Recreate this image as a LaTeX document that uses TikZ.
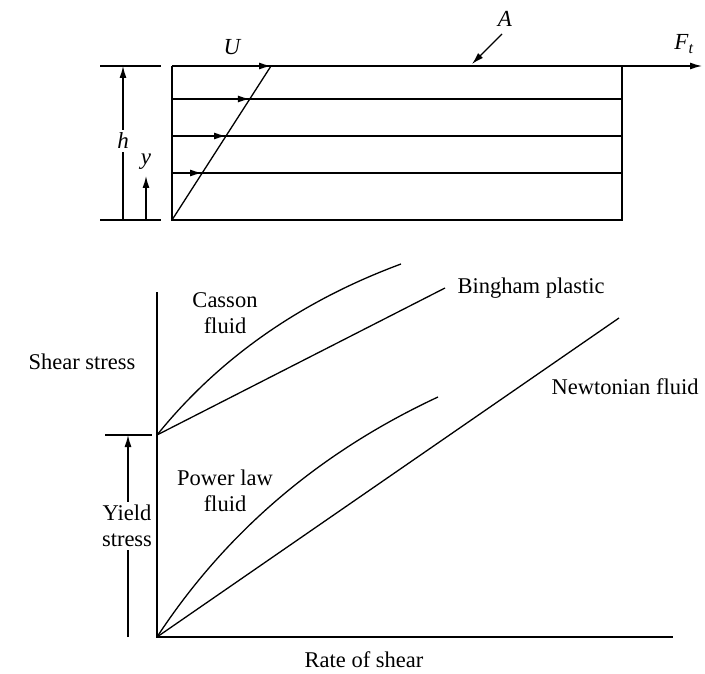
\documentclass[tikz,border=0pt]{standalone}
\usepackage{fontspec}
\setmainfont{Liberation Serif}
\usetikzlibrary{arrows.meta}
\begin{document}
\begin{tikzpicture}[x=1pt,y=-1pt, line width=1.3pt,
  tip/.style={-{Latex[length=12pt,width=7pt]}},
  lbl/.style={font=\fontsize{22.5}{26}\selectfont, inner sep=1pt},
  ilbl/.style={font=\fontsize{23}{27}\selectfont\itshape, inner sep=1pt}]
\useasboundingbox (0,0) rectangle (705,674);
% ---------- top: shear between plates ----------
\coordinate (t0) at (172,66);
\coordinate (t1) at (622,66);
\coordinate (b0) at (172,220);
\coordinate (b1) at (622,220);
\coordinate (ft) at (702,66);
\coordinate (p4) at (271,66);
\coordinate (l1a) at (172,99);  \coordinate (l1b) at (622,99);  \coordinate (p1) at (249.8,99);
\coordinate (l2a) at (172,136); \coordinate (l2b) at (622,136); \coordinate (p2) at (226,136);
\coordinate (l3a) at (172,173); \coordinate (l3b) at (622,173); \coordinate (p3) at (202,173);
\draw (t1) -- (b1) -- (b0) -- (t0);
\draw[tip] (t0) -- (ft);
\draw[tip] (t0) -- (p4);
\draw (l1a) -- (l1b);
\draw (l2a) -- (l2b);
\draw (l3a) -- (l3b);
\draw[tip] (l1a) -- (p1);
\draw[tip] (l2a) -- (p2);
\draw[tip] (l3a) -- (p3);
\draw (b0) -- (p4);
% left ticks and dimension arrows
\coordinate (tk1a) at (100,66);  \coordinate (tk1b) at (161,66);
\coordinate (tk2a) at (100,220); \coordinate (tk2b) at (161,220);
\draw (tk1a) -- (tk1b);
\draw (tk2a) -- (tk2b);
\coordinate (h0) at (123,220); \coordinate (h1) at (123,66);
\draw[tip] (h0) -- (h1);
\node[ilbl, fill=white, inner sep=3pt] (hl) at (123,141) {h};
\coordinate (y0) at (146,220); \coordinate (y1) at (146,176);
\draw[tip] (y0) -- (y1);
\node[ilbl] (yl) at (146,162) {y};
\node[ilbl] (ul) at (232,47) {U};
\node[ilbl] (al) at (505,19) {A};
\coordinate (a0) at (502,34); \coordinate (a1) at (472,64);
\draw[tip] (a0) -- (a1);
\node[ilbl] (fl) at (684,44) {F\textsubscript{t}};
% ---------- bottom: rheogram ----------
\coordinate (o) at (157,637);
\coordinate (ytop) at (157,292);
\coordinate (xend) at (673,637);
\coordinate (ys) at (157,435);
\draw (ytop) -- (o) -- (xend);
\coordinate (yt0) at (105,435); \coordinate (yt1) at (152,435);
\draw (yt0) -- (yt1);
\coordinate (ya0) at (128,637); \coordinate (ya1) at (128,435);
\draw[tip] (ya0) -- (ya1);
\node[lbl, fill=white, align=center, inner sep=3pt] (yl2) at (127,526) {Yield\\stress};
\node[lbl] (ss) at (82,362) {Shear stress};
% curves
\coordinate (ce) at (401,264);
\coordinate (cc1) at (219,358.3);
\coordinate (cc2) at (300.3,301.3);
\draw (ys) .. controls (cc1) and (cc2) .. (ce);
\coordinate (be) at (445,288);
\draw (ys) -- (be);
\coordinate (pe) at (438,397);
\coordinate (pc1) at (225.7,532.3);
\coordinate (pc2) at (319.3,452.3);
\draw (o) .. controls (pc1) and (pc2) .. (pe);
\coordinate (ne) at (619,318);
\draw (o) -- (ne);
% labels
\node[lbl, align=center] (cl) at (225,313) {Casson\\fluid};
\node[lbl, anchor=west] (bl) at (456,288) {Bingham plastic};
\node[lbl, align=center] (pl) at (225,491) {Power law\\fluid};
\node[lbl, anchor=west] (nl) at (550,387) {Newtonian fluid};
\node[lbl] (rl) at (364,660) {Rate of shear};
\end{tikzpicture}
\end{document}
